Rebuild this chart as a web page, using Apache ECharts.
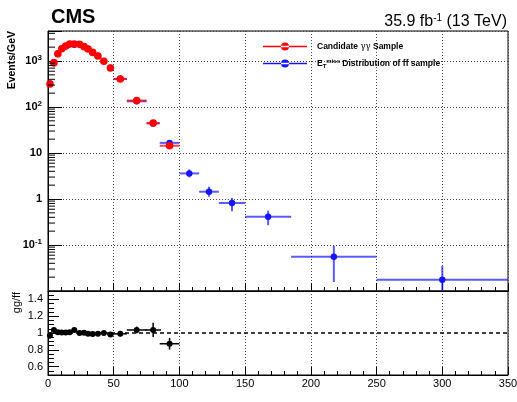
<!doctype html>
<html>
<head>
<meta charset="UTF-8">
<title>MET gg vs ff</title>
<script src="https://cdn.jsdelivr.net/npm/echarts@6/dist/echarts.min.js"></script>
<style>
	html, body { margin: 0; padding: 0; background: #fff; }
	#chart { width: 517px; height: 402px; }
</style>
</head>
<body>
<div id="chart"></div>
<script>
	// candidate gamma-gamma sample (red)
	var ggX = [1.5, 4.5, 7.5, 10.5, 13.5, 16.5, 20, 24, 27.5, 30.5, 34, 38, 42.5, 47.5, 55, 67.5, 80, 92.5];
	var ggHalfW = [1.5, 1.5, 1.5, 1.5, 1.5, 1.5, 2, 2, 1.75, 1.75, 2, 2, 2.5, 2.5, 5, 7.5, 5, 7.5];
	var ggY = [316, 920, 1440, 1850, 2120, 2340, 2340, 2300, 2050, 1820, 1540, 1280, 985, 705, 406, 138, 45, 14.4];
	var ggErr = [18, 30, 38, 43, 46, 48, 42, 42, 45, 43, 36, 32, 25, 21, 9, 4, 3, 1.4];

	// MET distribution of ff sample (blue)
	var ffX = [1.5, 4.5, 7.5, 10.5, 13.5, 16.5, 20, 24, 27.5, 30.5, 34, 38, 42.5, 47.5, 55, 67.5, 80, 92.5, 107.5, 122.5, 140, 167.5, 217.5, 300];
	var ffHalfW = [1.5, 1.5, 1.5, 1.5, 1.5, 1.5, 2, 2, 1.75, 1.75, 2, 2, 2.5, 2.5, 5, 7.5, 5, 7.5, 7.5, 7.5, 10, 17.5, 32.5, 50];
	var ffY = [325, 890, 1420, 1840, 2100, 2320, 2260, 2300, 2040, 1840, 1560, 1290, 985, 717, 410, 133, 44, 16.6, 3.6, 1.44, 0.82, 0.41, 0.0557, 0.0176];
	var ffErrDn = [10, 18, 22, 25, 27, 28, 26, 26, 27, 26, 23, 21, 17, 14, 6, 3, 1.8, 1.2, 0.65, 0.32, 0.28, 0.14, 0.04, 0.0126];
	var ffErrUp = [10, 18, 22, 25, 27, 28, 26, 26, 27, 26, 23, 21, 17, 14, 6, 3, 1.8, 1.2, 0.8, 0.41, 0.23, 0.15, 0.04, 0.0173];

	// ratio gg/ff
	var ratioX = [1.5, 4.5, 7.5, 10.5, 13.5, 16.5, 20, 24, 27.5, 30.5, 34, 38, 42.5, 47.5, 55, 67.5, 80, 92.5];
	var ratioHalfW = [1.5, 1.5, 1.5, 1.5, 1.5, 1.5, 2, 2, 1.75, 1.75, 2, 2, 2.5, 2.5, 5, 7.5, 6, 7.5];
	var ratioY = [0.97, 1.036, 1.01, 1.007, 1.007, 1.01, 1.036, 1.0, 1.003, 0.99, 0.988, 0.99, 1.0, 0.983, 0.99, 1.036, 1.036, 0.872];
	var ratioErr = [0.035, 0.02, 0.015, 0.012, 0.012, 0.012, 0.012, 0.012, 0.013, 0.013, 0.015, 0.016, 0.018, 0.02, 0.03, 0.04, 0.085, 0.07];

	var xTicks = [0, 350, 50];
	var logMinorSteps = [2, 3, 4, 5, 6, 7, 8, 9];
	var FONT = 'Liberation Sans, Arial, Helvetica, sans-serif';

	var ggData = ggX.map(function(x, i) {
		return [x, ggY[i], x - ggHalfW[i], x + ggHalfW[i], ggY[i] - ggErr[i], ggY[i] + ggErr[i]];
	});
	var ffData = ffX.map(function(x, i) {
		return [x, ffY[i], x - ffHalfW[i], x + ffHalfW[i], ffY[i] - ffErrDn[i], ffY[i] + ffErrUp[i]];
	});
	var ratioData = ratioX.map(function(x, i) {
		return [x, ratioY[i], x - ratioHalfW[i], x + ratioHalfW[i], ratioY[i] - ratioErr[i], ratioY[i] + ratioErr[i]];
	});

	// minor ticks of the log axis (2..9 x 10^n)
	var minorTickVals = [];
	for(var e = -2; e <= 3; e++) {
		logMinorSteps.forEach(function(k) {
			var v = k * Math.pow(10, e);
			if(v < 4490) minorTickVals.push([0, v]);
		});
	}

	function errorBar(radius, barWidth, barAlpha) {
		return function(params, api) {
			var x = api.value(0), y = api.value(1);
			var cs = params.coordSys;
			var c = api.coord([x, y]);
			var l = api.coord([api.value(2), y]);
			var r = api.coord([api.value(3), y]);
			var lo = api.coord([x, Math.max(api.value(4), 1e-6)]);
			var hi = api.coord([x, api.value(5)]);
			var yBottom = Math.min(lo[1], cs.y + cs.height);
			var yTop = Math.max(hi[1], cs.y);
			var color = api.visual('color');
			var ls = { stroke: color, lineWidth: barWidth, opacity: barAlpha };
			return {
				type: 'group',
				children: [
					{ type: 'line', shape: { x1: l[0], y1: c[1], x2: r[0], y2: c[1] }, style: ls },
					{ type: 'line', shape: { x1: c[0], y1: yTop, x2: c[0], y2: yBottom }, style: ls },
					{ type: 'circle', shape: { cx: c[0], cy: c[1], r: radius }, style: { fill: color } }
				]
			};
		};
	}

	function logLabel(v) {
		var e = Math.round(Math.log10(v));
		if(Math.abs(Math.log10(v) - e) > 0.01) return '';
		if(e === -2) return '';
		if(e === 0) return '1';
		if(e === 1) return '10';
		return '10{s|' + e + '}';
	}

	var chart = echarts.init(document.getElementById('chart'));

	var option = {
		animation: false,
		backgroundColor: '#fff',
		textStyle: { fontFamily: FONT },
		title: [{
			text: 'CMS',
			left: 46,
			top: 2,
			textStyle: { fontFamily: FONT, fontSize: 20, fontWeight: 'bold', color: '#000' }
		}, {
			text: '35.9 fb{s|-1} (13 TeV)',
			right: 5,
			top: 8,
			textStyle: {
				fontFamily: FONT, fontSize: 16, fontWeight: 'normal', color: '#000',
				rich: { s: { fontFamily: FONT, fontSize: 10, color: '#000', verticalAlign: 'top', padding: [0, 0, 8, 0] } }
			}
		}],
		legend: {
			orient: 'vertical',
			left: 258,
			top: 37,
			itemWidth: 44,
			itemHeight: 8,
			itemGap: 7,
			icon: 'path://M0,3.3H44V4.7H0Z M18,4A4,4 0 1,0 26,4A4,4 0 1,0 18,4Z',
			data: ['gg', 'ff'],
			formatter: function(name) {
				return name === 'gg' ? 'Candidate {g|γγ} Sample' : 'E{sub|T}{sup|miss} Distribution of ff sample';
			},
			textStyle: {
				fontFamily: FONT, fontSize: 8.5, fontWeight: 'bold', color: '#000',
				padding: [0, 0, 0, 5],
				rich: {
					g: { fontFamily: 'DejaVu Serif', fontSize: 8.5, fontWeight: 'normal', color: '#000' },
					sub: { fontFamily: FONT, fontSize: 6, fontWeight: 'bold', color: '#000', padding: [5, 0, 0, 0] },
					sup: { fontFamily: FONT, fontSize: 6, fontWeight: 'bold', color: '#000', padding: [0, 0, 5, 0] }
				}
			}
		},
		grid: [{
			left: 48, top: 31, width: 460, height: 260,
			show: true, borderColor: '#000', borderWidth: 1, outerBoundsMode: 'none'
		}, {
			left: 48, top: 291, width: 460, height: 84,
			show: true, borderColor: '#000', borderWidth: 1, outerBoundsMode: 'none'
		}],
		xAxis: [{
			type: 'value', gridIndex: 0, min: xTicks[0], max: xTicks[1], interval: xTicks[2],
			axisLine: { show: true, onZero: false, lineStyle: { color: '#000' } },
			axisTick: { show: true, inside: true, length: 8, lineStyle: { color: '#000' } },
			minorTick: { show: true, splitNumber: 5, length: 4, lineStyle: { color: '#000' } },
			axisLabel: { show: false },
			splitLine: { show: true, lineStyle: { color: '#444', type: [1, 2] } }
		}, {
			type: 'value', gridIndex: 1, min: xTicks[0], max: xTicks[1], interval: xTicks[2],
			axisLine: { show: true, onZero: false, lineStyle: { color: '#000' } },
			axisTick: { show: true, inside: true, length: 8, lineStyle: { color: '#000' } },
			minorTick: { show: true, splitNumber: 5, length: 4, lineStyle: { color: '#000' } },
			axisLabel: { fontFamily: FONT, fontSize: 11, color: '#000', margin: 3 },
			splitLine: { show: true, lineStyle: { color: '#444', type: [1, 2] } },
			name: 'E{sub|T}{sup|miss} [GeV]',
			nameLocation: 'end',
			nameGap: 0,
			nameTextStyle: {
				fontFamily: FONT, fontSize: 12, color: '#000', align: 'right', verticalAlign: 'top',
				padding: [12, 0, 0, 0],
				rich: {
					sub: { fontFamily: FONT, fontSize: 8, color: '#000', padding: [6, 0, 0, 0] },
					sup: { fontFamily: FONT, fontSize: 8, color: '#000', padding: [0, 0, 6, 0] }
				}
			}
		}],
		yAxis: [{
			type: 'log', logBase: 10, gridIndex: 0, min: 0.01, max: 4490,
			axisLine: { show: true, lineStyle: { color: '#000' } },
			axisTick: { show: true, inside: true, length: 14, lineStyle: { color: '#000' } },
			axisLabel: {
				formatter: logLabel, fontFamily: FONT, fontSize: 11, fontWeight: 'bold', color: '#000', margin: 6,
				rich: { s: { fontFamily: FONT, fontSize: 8, fontWeight: 'bold', color: '#000', padding: [0, 0, 7, 0] } }
			},
			splitLine: { show: true, lineStyle: { color: '#444', type: [1, 2] } }
		}, {
			type: 'value', gridIndex: 1, min: 0.5, max: 1.5, splitNumber: 5,
			axisLine: { show: true, onZero: false, lineStyle: { color: '#000' } },
			axisTick: { show: true, inside: true, length: 11, lineStyle: { color: '#000' } },
			minorTick: { show: true, splitNumber: 4, length: 6, lineStyle: { color: '#000' } },
			axisLabel: {
				fontFamily: FONT, fontSize: 11, color: '#000', margin: 5,
				formatter: function(v) {
					if(Math.abs(v - 0.5) < 1e-6 || Math.abs(v - 1.5) < 1e-6) return '';
					return String(+v.toFixed(1));
				}
			},
			splitLine: { show: false }
		}],
		graphic: [{
			type: 'text', x: 7, y: 31, rotation: Math.PI / 2,
			style: { text: 'Events/GeV', font: 'bold 10.5px ' + FONT, fill: '#000', align: 'right', verticalAlign: 'top' }
		}, {
			type: 'text', x: 11, y: 292, rotation: Math.PI / 2,
			style: { text: 'gg/ff', font: '11px ' + FONT, fill: '#000', align: 'right', verticalAlign: 'top' }
		}],
		series: [{
			name: 'logMinor',
			type: 'custom',
			xAxisIndex: 0, yAxisIndex: 0,
			silent: true,
			renderItem: function(params, api) {
				var p = api.coord([api.value(0), api.value(1)]);
				return { type: 'line', shape: { x1: p[0], y1: p[1], x2: p[0] + 7, y2: p[1] }, style: { stroke: '#000', lineWidth: 1 } };
			},
			data: minorTickVals,
			z: 5
		}, {
			name: 'ff',
			type: 'custom',
			xAxisIndex: 0, yAxisIndex: 0,
			itemStyle: { color: '#1414ff' },
			renderItem: errorBar(3.2, 2, 0.7),
			encode: { x: 0, y: 1 },
			data: ffData,
			z: 3
		}, {
			name: 'gg',
			type: 'custom',
			xAxisIndex: 0, yAxisIndex: 0,
			itemStyle: { color: '#ff0000' },
			renderItem: errorBar(3.8, 2, 0.75),
			encode: { x: 0, y: 1 },
			data: ggData,
			z: 4
		}, {
			name: 'ratio',
			type: 'custom',
			xAxisIndex: 1, yAxisIndex: 1,
			itemStyle: { color: '#000' },
			renderItem: errorBar(3, 1.5, 1),
			encode: { x: 0, y: 1 },
			data: ratioData,
			z: 4
		}, {
			name: 'unity',
			type: 'line',
			xAxisIndex: 1, yAxisIndex: 1,
			data: [],
			markLine: {
				silent: true,
				symbol: 'none',
				label: { show: false },
				lineStyle: { color: '#000', type: [4, 3], width: 1.5 },
				data: [{ yAxis: 1 }]
			}
		}]
	};

	chart.setOption(option);
</script>
</body>
</html>
